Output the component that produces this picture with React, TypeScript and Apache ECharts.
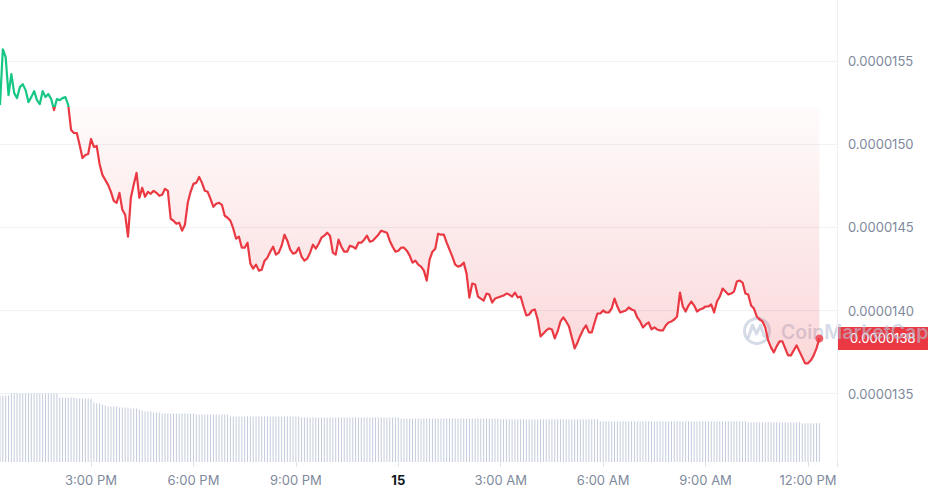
import React, { useEffect, useRef } from "react";
import * as echarts from "echarts";

// ---- time domain (5-minute samples over 24 h) ----
const START = new Date(2024, 4, 14, 12, 20).getTime();
const STEP = 5 * 60 * 1000;
const AXIS_MIN = new Date(2024, 4, 14, 12, 0).getTime();
const AXIS_MAX = START + 24 * 3600 * 1000 + 31 * 60 * 1000;
const TICK = 3 * 3600 * 1000;

// ---- price (USD) ----
const BASELINE = 1.5222e-5;
const PRICE = [
  1.5236e-5, 1.5572e-5, 1.5524e-5, 1.5296e-5, 1.5422e-5, 1.5308e-5, 1.5278e-5, 1.5344e-5, 1.5362e-5, 1.5326e-5,
  1.5254e-5, 1.5284e-5, 1.532e-5, 1.5266e-5, 1.5242e-5, 1.532e-5, 1.5284e-5, 1.5302e-5, 1.5272e-5, 1.5206e-5,
  1.5272e-5, 1.5266e-5, 1.5278e-5, 1.5284e-5, 1.5236e-5, 1.5086e-5, 1.5068e-5, 1.5068e-5, 1.4996e-5, 1.4918e-5,
  1.4936e-5, 1.4942e-5, 1.5032e-5, 1.4984e-5, 1.499e-5, 1.4882e-5, 1.4816e-5, 1.4786e-5, 1.4756e-5, 1.4714e-5,
  1.466e-5, 1.4648e-5, 1.4708e-5, 1.4606e-5, 1.4576e-5, 1.4444e-5, 1.4678e-5, 1.4756e-5, 1.4828e-5, 1.4678e-5,
  1.4738e-5, 1.4684e-5, 1.4714e-5, 1.4702e-5, 1.472e-5, 1.4708e-5, 1.469e-5, 1.4696e-5, 1.4732e-5, 1.472e-5,
  1.4552e-5, 1.454e-5, 1.4522e-5, 1.4528e-5, 1.448e-5, 1.4516e-5, 1.4648e-5, 1.4714e-5, 1.4762e-5, 1.4768e-5,
  1.4804e-5, 1.4768e-5, 1.472e-5, 1.4714e-5, 1.4672e-5, 1.4624e-5, 1.4642e-5, 1.4648e-5, 1.4636e-5, 1.457e-5,
  1.4558e-5, 1.454e-5, 1.4492e-5, 1.4432e-5, 1.4444e-5, 1.4378e-5, 1.4378e-5, 1.4408e-5, 1.4282e-5, 1.4252e-5,
  1.4276e-5, 1.424e-5, 1.4246e-5, 1.43e-5, 1.4318e-5, 1.4354e-5, 1.4384e-5, 1.4336e-5, 1.4348e-5, 1.439e-5,
  1.4456e-5, 1.442e-5, 1.4366e-5, 1.4342e-5, 1.4348e-5, 1.4378e-5, 1.4324e-5, 1.43e-5, 1.4312e-5, 1.4348e-5,
  1.4396e-5, 1.4372e-5, 1.4402e-5, 1.4438e-5, 1.445e-5, 1.4468e-5, 1.445e-5, 1.4348e-5, 1.4336e-5, 1.4426e-5,
  1.4384e-5, 1.4354e-5, 1.4354e-5, 1.439e-5, 1.4384e-5, 1.4372e-5, 1.4408e-5, 1.4408e-5, 1.4426e-5, 1.445e-5,
  1.4414e-5, 1.442e-5, 1.4438e-5, 1.4456e-5, 1.448e-5, 1.4474e-5, 1.4468e-5, 1.442e-5, 1.4384e-5, 1.4354e-5,
  1.436e-5, 1.4378e-5, 1.4378e-5, 1.436e-5, 1.433e-5, 1.4288e-5, 1.43e-5, 1.4276e-5, 1.4264e-5, 1.424e-5,
  1.418e-5, 1.4306e-5, 1.4354e-5, 1.4372e-5, 1.4462e-5, 1.4456e-5, 1.4456e-5, 1.4408e-5, 1.4366e-5, 1.4324e-5,
  1.4276e-5, 1.4264e-5, 1.427e-5, 1.4288e-5, 1.4222e-5, 1.4078e-5, 1.4162e-5, 1.4156e-5, 1.4084e-5, 1.4072e-5,
  1.406e-5, 1.4102e-5, 1.4096e-5, 1.4048e-5, 1.4072e-5, 1.4078e-5, 1.4084e-5, 1.409e-5, 1.4102e-5, 1.4096e-5,
  1.4084e-5, 1.4108e-5, 1.4078e-5, 1.4084e-5, 1.4024e-5, 1.397e-5, 1.3976e-5, 1.4e-5, 1.4006e-5, 1.3946e-5,
  1.3844e-5, 1.3862e-5, 1.388e-5, 1.3892e-5, 1.3886e-5, 1.3832e-5, 1.3874e-5, 1.3934e-5, 1.3958e-5, 1.3934e-5,
  1.3904e-5, 1.3838e-5, 1.3772e-5, 1.3808e-5, 1.385e-5, 1.3886e-5, 1.391e-5, 1.3868e-5, 1.3868e-5, 1.3928e-5,
  1.3982e-5, 1.3982e-5, 1.4e-5, 1.3988e-5, 1.3988e-5, 1.4012e-5, 1.4072e-5, 1.4024e-5, 1.3988e-5, 1.3994e-5,
  1.4e-5, 1.4018e-5, 1.4006e-5, 1.4e-5, 1.3958e-5, 1.3934e-5, 1.3898e-5, 1.3916e-5, 1.3928e-5, 1.3886e-5,
  1.3898e-5, 1.3886e-5, 1.388e-5, 1.388e-5, 1.391e-5, 1.3928e-5, 1.3934e-5, 1.3946e-5, 1.3964e-5, 1.4108e-5,
  1.4024e-5, 1.3994e-5, 1.403e-5, 1.4054e-5, 1.403e-5, 1.3994e-5, 1.4006e-5, 1.4012e-5, 1.4024e-5, 1.4024e-5,
  1.4036e-5, 1.3988e-5, 1.4054e-5, 1.4084e-5, 1.4132e-5, 1.4114e-5, 1.4096e-5, 1.4102e-5, 1.4114e-5, 1.4174e-5,
  1.418e-5, 1.4168e-5, 1.4102e-5, 1.4096e-5, 1.403e-5, 1.4012e-5, 1.3964e-5, 1.3946e-5, 1.3934e-5, 1.3898e-5,
  1.382e-5, 1.3778e-5, 1.3748e-5, 1.3784e-5, 1.3814e-5, 1.3814e-5, 1.3772e-5, 1.373e-5, 1.373e-5, 1.376e-5,
  1.379e-5, 1.3754e-5, 1.3718e-5, 1.3682e-5, 1.3682e-5, 1.37e-5, 1.373e-5, 1.3772e-5, 1.3832e-5,
];

// ---- volume (relative units) ----
const VOLUME = [
  67, 67, 67, 67, 69, 69, 69, 69, 69, 69,
  69, 69, 69, 69, 69, 69, 69, 69, 69, 69,
  69, 65, 65, 65, 65, 65, 65, 64, 64, 64,
  64, 64, 64, 60, 59, 59, 58, 57, 56, 56,
  56, 56, 55, 55, 55, 55, 54, 54, 54, 53,
  52, 51, 51, 51, 50, 50, 50, 49, 49, 49,
  49, 49, 49, 49, 49, 49, 49, 49, 49, 48,
  48, 48, 48, 48, 48, 48, 48, 48, 48, 48,
  48, 46, 46, 46, 46, 46, 46, 46, 46, 46,
  46, 46, 46, 46, 46, 46, 46, 46, 46, 46,
  46, 46, 46, 46, 46, 46, 45, 45, 45, 45,
  45, 45, 45, 45, 45, 45, 45, 45, 45, 45,
  45, 45, 45, 45, 45, 45, 45, 45, 45, 45,
  45, 45, 45, 45, 45, 45, 45, 45, 45, 45,
  45, 44, 44, 44, 44, 44, 44, 44, 44, 44,
  44, 44, 44, 44, 44, 44, 44, 44, 44, 44,
  44, 44, 44, 44, 44, 44, 44, 44, 44, 44,
  44, 44, 44, 44, 44, 44, 43, 43, 43, 43,
  43, 43, 43, 43, 43, 43, 43, 43, 43, 43,
  43, 43, 43, 43, 43, 43, 43, 43, 43, 43,
  43, 43, 43, 43, 43, 43, 43, 43, 43, 43,
  43, 41, 41, 41, 41, 41, 41, 41, 41, 41,
  41, 41, 41, 41, 41, 41, 41, 41, 41, 41,
  41, 41, 41, 41, 41, 41, 41, 41, 41, 41,
  41, 41, 41, 41, 41, 41, 41, 41, 41, 41,
  41, 41, 41, 41, 41, 41, 41, 41, 41, 41,
  41, 41, 41, 40, 40, 40, 40, 40, 40, 40,
  40, 40, 40, 40, 40, 40, 40, 40, 40, 40,
  40, 40, 39, 39, 39, 39, 39, 39, 39,
];

// ---- axis settings ----
const Y_MIN = 1.35e-5;
const Y_MAX = 1.6e-5;
const Y_STEP = 5e-7;
const VOL_MAX = 69;

const GREEN = "#16c784";
const RED = "#ea3943";
const LABEL = "#808a9d";
const GRIDLINE = "#eff2f5";
const WATERMARK = "rgba(185,195,215,0.6)";
const FONT = "Inter";

function timeLabel(v: number): string {
  const d = new Date(v);
  if (d.getMinutes() !== 0 || d.getHours() % 3 !== 0) return "";
  const h = d.getHours();
  if (h === 0) return `{day|${d.getDate()}}`;
  const h12 = h % 12 === 0 ? 12 : h % 12;
  return `${h12}:00 ${h < 12 ? "AM" : "PM"}`;
}

export default function App() {
  const ref = useRef<HTMLDivElement>(null);

  useEffect(() => {
    document.body.style.margin = "0";
    if (!ref.current) return;
    const chart = echarts.init(ref.current, undefined, { renderer: "svg" });

    const times = PRICE.map((_, i) => START + i * STEP);
    const lineData = PRICE.map((p, i) => [times[i], p]);
    const areaData = PRICE.map((p, i) => [times[i], Math.min(p, BASELINE)]);
    const volData = VOLUME.map((v, i) => [START + i * STEP, v]);
    const last = lineData[lineData.length - 1];

    chart.setOption({
      animation: false,
      grid: [
        { left: -11.4, right: 91, top: -21.9, bottom: 101.4, outerBoundsMode: "none", containLabel: false },
        { left: -11.4, right: 91, top: 393.6, bottom: 33, outerBoundsMode: "none", containLabel: false },
      ],
      xAxis: [
        { type: "value", gridIndex: 0, min: AXIS_MIN, max: AXIS_MAX, show: false },
        {
          type: "value",
          gridIndex: 1,
          min: AXIS_MIN,
          max: AXIS_MAX,
          interval: TICK,
          axisLine: { show: false },
          axisTick: { show: true, length: 5, lineStyle: { color: "#dfe3ea" } },
          splitLine: { show: false },
          axisLabel: {
            showMinLabel: false,
            margin: 11,
            color: LABEL,
            fontSize: 13,
            fontFamily: FONT,
            formatter: timeLabel,
            rich: { day: { fontWeight: "bold", color: "#0d1421", fontSize: 13, fontFamily: FONT } },
          },
        },
      ],
      yAxis: [
        {
          type: "value",
          gridIndex: 0,
          position: "right",
          min: Y_MIN,
          max: Y_MAX,
          interval: Y_STEP,
          axisLine: { show: true, lineStyle: { color: GRIDLINE } },
          axisTick: { show: false },
          splitLine: { show: true, lineStyle: { color: GRIDLINE } },
          axisLabel: {
            showMaxLabel: false,
            margin: 11,
            color: LABEL,
            fontSize: 13,
            fontFamily: FONT,
            formatter: (v: number) => v.toFixed(7),
          },
        },
        {
          type: "value",
          gridIndex: 1,
          position: "right",
          min: 0,
          max: VOL_MAX,
          axisLine: { show: true, lineStyle: { color: GRIDLINE } },
          axisTick: { show: false },
          axisLabel: { show: false },
          splitLine: { show: false },
        },
      ],
      visualMap: {
        show: false,
        type: "piecewise",
        seriesIndex: 0,
        dimension: 1,
        pieces: [
          { gte: 0, lt: BASELINE, color: RED },
          { gte: BASELINE, lte: 1, color: GREEN },
        ],
      },
      series: [
        {
          type: "line",
          name: "price",
          xAxisIndex: 0,
          yAxisIndex: 0,
          data: lineData,
          showSymbol: false,
          symbol: "none",
          z: 3,
          lineStyle: { width: 2.2, join: "round" },
          silent: true,
        },
        {
          type: "line",
          name: "fill",
          xAxisIndex: 0,
          yAxisIndex: 0,
          data: areaData,
          showSymbol: false,
          symbol: "none",
          z: 1,
          silent: true,
          lineStyle: { width: 0, opacity: 0 },
          areaStyle: {
            origin: BASELINE,
            color: new echarts.graphic.LinearGradient(0, 0, 0, 1, [
              { offset: 0, color: "rgba(234,57,67,0.03)" },
              { offset: 1, color: "rgba(234,57,67,0.28)" },
            ]),
          },
          markLine: {
            silent: true,
            symbol: "none",
            label: { show: false },
            lineStyle: { type: [2, 4], color: "#9aa3b4", width: 1.3, opacity: 1 },
            data: [{ yAxis: BASELINE }],
          },
        },
        {
          type: "scatter",
          name: "last",
          xAxisIndex: 0,
          yAxisIndex: 0,
          data: [last],
          symbolSize: 8,
          itemStyle: { color: RED },
          z: 4,
          silent: true,
        },
        {
          type: "bar",
          name: "volume",
          xAxisIndex: 1,
          yAxisIndex: 1,
          data: volData,
          barWidth: 1,
          itemStyle: { color: "#c3cbdd" },
          silent: true,
        },
      ],
    });

    // price tag and watermark, positioned through the chart's own scales
    const tagY = chart.convertToPixel({ yAxisIndex: 0 }, last[1]) as number;
    const axisX = chart.convertToPixel({ xAxisIndex: 0 }, AXIS_MAX) as number;

    chart.setOption({
      graphic: [
        {
          type: "group",
          id: "tag",
          z: 90,
          silent: true,
          children: [
            {
              type: "rect",
              shape: { x: axisX, y: tagY - 11.5, width: 928 - axisX, height: 23 },
              style: { fill: RED },
            },
            {
              type: "text",
              x: axisX + 13,
              y: tagY,
              style: {
                text: Number(last[1]).toFixed(7),
                fill: "#ffffff",
                font: `13px ${FONT}`,
                verticalAlign: "middle",
              },
            },
          ],
        },
        {
          type: "group",
          id: "watermark",
          z: 100,
          silent: true,
          children: [
            {
              type: "circle",
              shape: { cx: 757, cy: 331, r: 12.5 },
              style: { fill: "none", stroke: WATERMARK, lineWidth: 3 },
            },
            {
              type: "polyline",
              shape: { points: [[748.5, 337], [752.5, 325], [756.5, 334], [760.5, 325], [764, 336], [767.5, 337]] },
              style: { fill: "none", stroke: WATERMARK, lineWidth: 3, lineJoin: "round", lineCap: "round" },
            },
            {
              type: "text",
              x: 781,
              y: 332,
              style: { text: "CoinMarketCap", font: `600 19.5px ${FONT}`, fill: WATERMARK, verticalAlign: "middle" },
            },
          ],
        },
      ],
    });

    return () => chart.dispose();
  }, []);

  return <div ref={ref} style={{ width: 928, height: 495 }} />;
}
